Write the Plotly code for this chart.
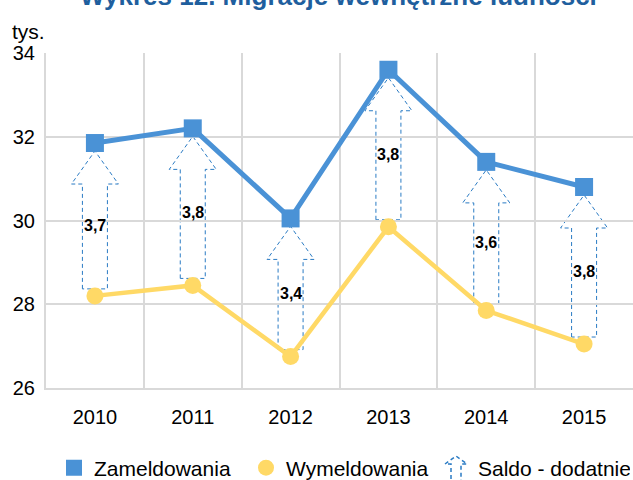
import plotly.graph_objects as go

# ---- data ----
years = ["2010", "2011", "2012", "2013", "2014", "2015"]
zameldowania = [31.85, 32.2, 30.05, 33.6, 31.4, 30.8]
wymeldowania = [28.2, 28.45, 26.75, 29.85, 27.85, 27.05]
saldo = [3.7, 3.8, 3.4, 3.8, 3.6, 3.8]
y_ticks = [26, 28, 30, 32, 34]

title_text = "Wykres 12. Migracje wewnętrzne ludności"
unit_text = "tys."

# ---- layout geometry (window pixels; body margin removed below) ----
W, H = 633, 480
OFF = 0
PL, PT = 46, 53          # plot left/top in window pixels
plot_w, plot_h = 587, 335
ML, MT = PL - OFF, PT - OFF
MR = W - ML - plot_w
MB = H - MT - plot_h
PB = PT + plot_h         # plot bottom in window pixels
y_min, y_max = 26, 34
px_per_unit = plot_h / (y_max - y_min)

BLUE = "#4A92D6"
YELLOW = "#FFD966"
ARROW = "#2A7BC4"
GRID = "#D9D9D9"
FONT = "Liberation Sans, Arial, sans-serif"

xs = list(range(len(years)))

fig = go.Figure()

# arrows (saldo) drawn as dashed outlined shapes
shapes = []
bw, hw = 12.5, 23.5
for i, (z, w) in enumerate(zip(zameldowania, wymeldowania)):
    tip = z - 8 / px_per_unit
    base = z - 41 / px_per_unit
    bot = w + 7 / px_per_unit
    path = (f"M {-bw},{bot} L {-bw},{base} L {-hw},{base} L 0,{tip} "
            f"L {hw},{base} L {bw},{base} L {bw},{bot} Z")
    shapes.append(dict(type="path", xref="x", yref="y", xsizemode="pixel",
                       xanchor=xs[i], path=path, layer="below",
                       line=dict(color=ARROW, width=1, dash="4px,3px"),
                       fillcolor="rgba(0,0,0,0)"))

fig.add_trace(go.Scatter(x=xs, y=wymeldowania, mode="lines+markers",
                         line=dict(color=YELLOW, width=4.5),
                         marker=dict(symbol="circle", size=17, color=YELLOW),
                         showlegend=False, hoverinfo="skip"))
fig.add_trace(go.Scatter(x=xs, y=zameldowania, mode="lines+markers",
                         line=dict(color=BLUE, width=5),
                         marker=dict(symbol="square", size=18, color=BLUE),
                         showlegend=False, hoverinfo="skip"))

# legend entries
fig.add_trace(go.Scatter(x=[None], y=[None], mode="markers", name="Zameldowania",
                         marker=dict(symbol="square", size=18, color=BLUE)))
fig.add_trace(go.Scatter(x=[None], y=[None], mode="markers", name="Wymeldowania",
                         marker=dict(symbol="circle", size=17, color=YELLOW)))
fig.add_trace(go.Scatter(x=[None], y=[None], mode="markers", name="Saldo - dodatnie",
                         marker=dict(symbol="circle", size=1, color="rgba(0,0,0,0)")))

annotations = []
for i, (z, w, s) in enumerate(zip(zameldowania, wymeldowania, saldo)):
    annotations.append(dict(x=xs[i], y=(z + w) / 2, xref="x", yref="y",
                            text=f"{s:.1f}".replace(".", ","), showarrow=False,
                            yshift=-6,
                            font=dict(family=FONT, size=16, color="#000000", weight="bold")))

annotations.append(dict(x=(338 - PL) / plot_w, y=1 + (PT + 4) / plot_h,
                        xref="paper", yref="paper", text=f"<b>{title_text}</b>",
                        showarrow=False, xanchor="center", yanchor="middle",
                        font=dict(family=FONT, size=26, color="#1F5F9E")))
annotations.append(dict(x=(10 - PL) / plot_w, y=1 + (PT - 32) / plot_h,
                        xref="paper", yref="paper", text=unit_text,
                        showarrow=False, xanchor="left", yanchor="middle",
                        font=dict(family=FONT, size=21, color="#000000")))

# legend icon for saldo arrow (pixel-sized, anchored in paper coords)
lx = (456 - PL) / plot_w
ly = -(456 - PB) / plot_h
shapes.append(dict(type="path", xref="paper", yref="paper", xsizemode="pixel",
                   ysizemode="pixel", xanchor=lx, yanchor=ly,
                   path="M -5,-30 L -5,-8 L -11,-8 L 0,0 L 11,-8 L 5,-8 L 5,-30",
                   line=dict(color=ARROW, width=1.5, dash="4px,3px"),
                   fillcolor="rgba(0,0,0,0)"))

fig.update_layout(
    width=W, height=H,
    margin=dict(l=ML, r=MR, t=MT, b=MB, pad=0, autoexpand=False),
    paper_bgcolor="white", plot_bgcolor="white",
    font=dict(family=FONT, size=20, color="#000000"),
    shapes=shapes, annotations=annotations,
    showlegend=True,
    legend=dict(orientation="h", x=(54 - PL) / plot_w, xanchor="left",
                y=-(468 - PB) / plot_h, yanchor="middle",
                font=dict(family=FONT, size=21, color="#000000"),
                entrywidth=147, itemsizing="trace",
                bgcolor="rgba(0,0,0,0)"),
    xaxis=dict(range=[-0.5, len(years) - 0.5], tickvals=xs, ticktext=years,
               showgrid=False, zeroline=False,
               showline=True, linecolor=GRID, linewidth=2, mirror=False,
               ticks="", ticklabelstandoff=10,
               minor=dict(tickvals=[i + 0.5 for i in xs[:-1]], showgrid=True,
                          gridcolor=GRID, gridwidth=2, ticks=""),
               fixedrange=True, automargin=False),
    yaxis=dict(range=[y_min, y_max], tickvals=y_ticks,
               showgrid=True, gridcolor=GRID, gridwidth=2, zeroline=False,
               showline=True, linecolor=GRID, linewidth=2,
               ticks="", ticklabelstandoff=5, fixedrange=True, automargin=False),
)

fig.write_html("out.html",
               config={"displayModeBar": False},
               post_script="document.body.style.margin='0px';"
                           "document.body.style.overflow='hidden';")
